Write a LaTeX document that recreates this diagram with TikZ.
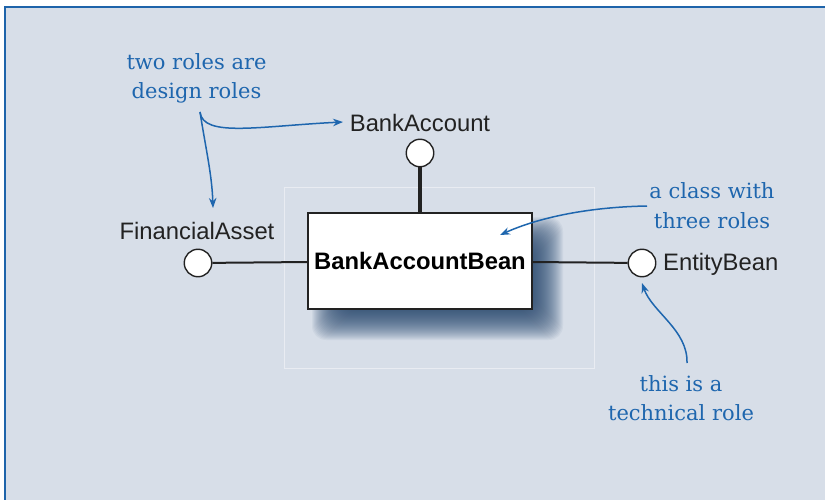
\documentclass[tikz,border=0pt]{standalone}
\usepackage{fontspec}
\setmainfont{DejaVu Serif}
\newfontfamily\labelfont{Liberation Sans}
\usetikzlibrary{arrows.meta}
\definecolor{bgblue}{HTML}{D7DEE8}
\definecolor{frameblue}{HTML}{1E64AA}
\definecolor{noteblue}{HTML}{1E66AE}
\definecolor{shadowblue}{HTML}{24446C}
\definecolor{linegrey}{HTML}{222222}
\tikzset{
  classbox/.style={draw=linegrey, line width=1.3pt, fill=white, minimum width=224pt, minimum height=96pt, inner sep=0pt, font=\labelfont\bfseries\fontsize{23.8}{28}\selectfont},
  port/.style={circle, draw=linegrey, line width=1.4pt, fill=white, minimum size=27.5pt, inner sep=0pt},
  rolelbl/.style={inner sep=0pt, text=linegrey, font=\labelfont\fontsize{23.8}{28}\selectfont},
  note/.style={inner sep=0pt, align=center, text=noteblue, font=\fontsize{21}{29}\selectfont},
  notearrow/.style={draw=noteblue, line width=1.5pt, -{Stealth[length=10pt,width=7.5pt]}},
  wire/.style={draw=linegrey, line width=2pt},
}
\begin{document}
\begin{tikzpicture}[x=1pt,y=-1pt]
\useasboundingbox (0,0) rectangle (825,500);
\fill[white] (0,0) rectangle (825,500);
\begin{scope}
  \clip (0,0) rectangle (825,500);
  \draw[frameblue, line width=2.5pt, fill=bgblue] (5,7) rectangle (900,560);
\end{scope}
\draw[white, opacity=0.45, line width=0.6pt] (284,187) rectangle (594,368);
% shadow
\foreach \e in {-15,-14,...,28}{
  \fill[shadowblue, opacity=0.05, rounded corners=14pt] (340-\e,245-\e) rectangle (535+\e,312+\e);
}
% ports
\node[port] (fa) at (198,263) {};
\node[port] (ba) at (420,153) {};
\node[port] (eb) at (642,263) {};
\node[classbox] (bean) at (420,261) {BankAccountBean};
\draw[wire] (fa) -- (bean);
\draw[wire] (eb) -- (bean);
\draw[wire, line width=3.5pt] (ba) -- (bean);
% labels
\node[rolelbl, anchor=base] (falbl) at (197,240) {FinancialAsset};
\node[rolelbl, anchor=base] (balbl) at (420,132) {BankAccount};
\node[rolelbl, anchor=base west] (eblbl) at (663,270) {EntityBean};
% notes
\node[note, anchor=base] (n1) at (196.5,99) {two roles are\\design roles};
\node[note, anchor=base] (n2) at (712,228) {a class with\\three roles};
\node[note, anchor=base] (n3) at (681,420) {this is a\\technical role};
% arrows
\coordinate (s1) at (200,112);
\coordinate (t1) at (213,208);
\coordinate (t2) at (343,122);
\coordinate (s3) at (647,206);
\coordinate (t3) at (500,235);
\coordinate (s4) at (687,363);
\coordinate (t4) at (642,283);
\draw[notearrow] (s1) .. controls (206,150) and (212,175) .. (t1);
\draw[notearrow] (s1) .. controls (203,138) and (260,126) .. (t2);
\draw[notearrow] (s3) .. controls (590,207) and (540,217) .. (t3);
\draw[notearrow] (s4) .. controls (688,330) and (652,312) .. (t4);
\end{tikzpicture}
\end{document}
